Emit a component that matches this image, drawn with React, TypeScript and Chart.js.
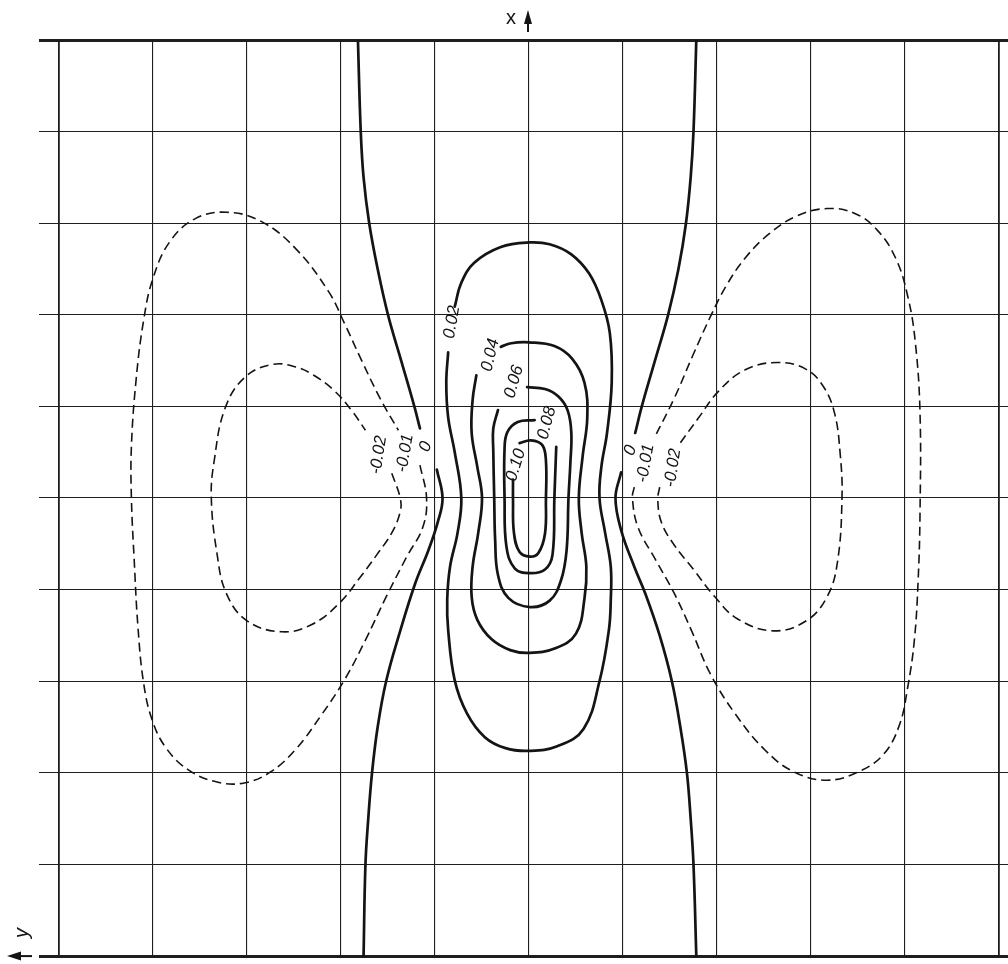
import React, { useEffect, useRef } from "react";
import { Chart, registerables } from "chart.js";

Chart.register(...registerables);

type P = [number, number];

// Grid units: horizontal axis is y (arrow pointing left), vertical axis is x (arrow pointing up).
const gridCols: number[] = [-5, -4, -3, -2, -1, 0, 1, 2, 3, 4, 5];
const gridRows: number[] = [-5, -4, -3, -2, -1, 0, 1, 2, 3, 4, 5];

// Contour polylines, [y, x] pairs in grid units, split where a level label sits.
const zeroLeftUpper: P[] = [
  [-1.82, 5.0], [-1.79, 4.0], [-1.76, 3.5], [-1.70, 3.0], [-1.61, 2.5],
  [-1.50, 2.0], [-1.36, 1.5], [-1.22, 1.0], [-1.16, 0.76],
];
const zeroLeftLower: P[] = [
  [-0.98, 0.31], [-0.92, 0.0], [-0.97, -0.26], [-1.07, -0.57], [-1.21, -0.93],
  [-1.37, -1.45], [-1.52, -2.0], [-1.61, -2.5], [-1.67, -3.0], [-1.71, -3.5],
  [-1.74, -4.0], [-1.76, -5.0],
];
const zeroRightUpper: P[] = [
  [1.78, 5.0], [1.75, 4.0], [1.72, 3.5], [1.67, 3.0], [1.59, 2.5],
  [1.48, 2.0], [1.34, 1.5], [1.20, 1.0], [1.13, 0.71],
];
const zeroRightLower: P[] = [
  [0.98, 0.28], [0.92, 0.0], [0.98, -0.35], [1.12, -0.75], [1.24, -1.05],
  [1.39, -1.5], [1.52, -2.0], [1.61, -2.5], [1.68, -3.0], [1.72, -3.5],
  [1.75, -4.0], [1.78, -5.0],
];
const level002: P[] = [
  [-0.86, 1.59], [-0.88, 1.26], [-0.86, 0.88], [-0.79, 0.50], [-0.72, 0.0],
  [-0.76, -0.38], [-0.84, -0.75], [-0.87, -1.11], [-0.86, -1.44], [-0.79, -1.99],
  [-0.66, -2.35], [-0.47, -2.61], [-0.25, -2.73], [0.0, -2.76], [0.30, -2.71],
  [0.58, -2.52], [0.75, -2.0], [0.85, -1.44], [0.87, -1.11], [0.87, -0.75],
  [0.81, -0.38], [0.75, 0.0], [0.77, 0.34], [0.83, 0.71], [0.88, 1.26],
  [0.86, 1.80], [0.77, 2.16], [0.64, 2.45], [0.45, 2.66], [0.22, 2.77],
  [0.0, 2.79], [-0.30, 2.74], [-0.58, 2.57], [-0.72, 2.35], [-0.79, 2.09],
];
const level004: P[] = [
  [-0.56, 1.34], [-0.60, 1.07], [-0.61, 0.71], [-0.55, 0.34], [-0.50, 0.0],
  [-0.54, -0.38], [-0.60, -0.75], [-0.61, -1.08], [-0.55, -1.33], [-0.40, -1.54],
  [-0.20, -1.66], [0.0, -1.69], [0.28, -1.64], [0.50, -1.48], [0.59, -1.10],
  [0.61, -0.75], [0.56, -0.38], [0.53, 0.0], [0.57, 0.45], [0.62, 0.88],
  [0.59, 1.26], [0.46, 1.52], [0.27, 1.66], [0.0, 1.70], [-0.19, 1.69],
  [-0.30, 1.65],
];
const level006: P[] = [
  [-0.33, 0.96], [-0.38, 0.76], [-0.38, 0.52], [-0.37, 0.0], [-0.36, -0.46],
  [-0.33, -0.84], [-0.22, -1.09], [0.01, -1.19], [0.22, -1.12], [0.34, -0.90],
  [0.40, -0.57], [0.42, 0.0], [0.44, 0.38], [0.45, 0.72], [0.41, 0.96],
  [0.31, 1.11], [0.17, 1.19], [-0.02, 1.21],
];
const level008: P[] = [
  [0.06, 0.85], [-0.12, 0.83], [-0.23, 0.72], [-0.26, 0.54], [-0.26, 0.0],
  [-0.24, -0.53], [-0.15, -0.77], [0.01, -0.82], [0.17, -0.78], [0.25, -0.62],
  [0.27, 0.0], [0.29, 0.56],
];
const level010: P[] = [
  [-0.17, 0.20], [-0.17, -0.02], [-0.16, -0.38], [-0.10, -0.59], [0.01, -0.64],
  [0.10, -0.60], [0.17, -0.39], [0.18, -0.02], [0.18, 0.41], [0.14, 0.58],
  [0.02, 0.63], [-0.10, 0.60],
];
const minus001Left: P[] = [
  [-1.16, 0.36], [-1.09, 0.0], [-1.13, -0.32], [-1.30, -0.64], [-1.52, -1.08],
  [-1.74, -1.55], [-1.96, -1.98], [-2.21, -2.37], [-2.48, -2.74], [-2.75, -2.99],
  [-3.03, -3.11], [-3.32, -3.10], [-3.62, -2.97], [-3.86, -2.73], [-4.01, -2.42],
  [-4.10, -2.02], [-4.16, -1.41], [-4.20, -0.68], [-4.23, 0.0], [-4.23, 0.56],
  [-4.18, 1.29], [-4.10, 1.94], [-4.00, 2.40], [-3.82, 2.80], [-3.55, 3.05],
  [-3.22, 3.12], [-2.85, 3.02], [-2.48, 2.72], [-2.13, 2.25], [-1.96, 1.90],
  [-1.78, 1.50], [-1.58, 1.08], [-1.39, 0.74],
];
const minus002Left: P[] = [
  [-1.46, 0.27], [-1.37, 0.0], [-1.37, -0.15], [-1.46, -0.38], [-1.62, -0.62],
  [-1.80, -0.87], [-2.02, -1.15], [-2.31, -1.38], [-2.63, -1.46], [-3.00, -1.34],
  [-3.22, -1.04], [-3.32, -0.60], [-3.38, 0.0], [-3.35, 0.40], [-3.23, 0.99],
  [-3.01, 1.33], [-2.72, 1.46], [-2.48, 1.43], [-2.29, 1.34], [-2.08, 1.18],
  [-1.89, 0.96], [-1.74, 0.74],
];
const minus001Right: P[] = [
  [1.12, 0.12], [1.10, 0.0], [1.16, -0.32], [1.35, -0.68], [1.55, -1.05],
  [1.73, -1.45], [1.93, -1.92], [2.19, -2.35], [2.51, -2.75], [2.82, -2.99],
  [3.17, -3.08], [3.50, -2.99], [3.77, -2.80], [3.94, -2.48], [4.03, -2.06],
  [4.10, -1.55], [4.14, -0.90], [4.16, -0.16], [4.16, 0.93], [4.11, 1.70],
  [4.03, 2.20], [3.90, 2.62], [3.70, 2.93], [3.46, 3.11], [3.17, 3.16],
  [2.85, 3.08], [2.55, 2.88], [2.30, 2.62], [2.10, 2.32], [1.93, 1.98],
  [1.74, 1.55], [1.55, 1.10], [1.34, 0.67],
];
const minus002Right: P[] = [
  [1.39, 0.12], [1.37, -0.02], [1.41, -0.27], [1.55, -0.52], [1.75, -0.78],
  [1.97, -1.07], [2.22, -1.32], [2.60, -1.45], [2.95, -1.34], [3.17, -1.08],
  [3.28, -0.71], [3.33, 0.0], [3.31, 0.49], [3.25, 0.93], [3.13, 1.22],
  [2.94, 1.41], [2.64, 1.48], [2.30, 1.40], [2.02, 1.17], [1.80, 0.87],
  [1.58, 0.56],
];

// Each level with its line pieces.
const contourLevels: { level: number; parts: P[][] }[] = [
  { level: 0.1, parts: [level010] },
  { level: 0.08, parts: [level008] },
  { level: 0.06, parts: [level006] },
  { level: 0.04, parts: [level004] },
  { level: 0.02, parts: [level002] },
  { level: 0, parts: [zeroLeftUpper, zeroLeftLower, zeroRightUpper, zeroRightLower] },
  { level: -0.01, parts: [minus001Left, minus001Right] },
  { level: -0.02, parts: [minus002Left, minus002Right] },
];

// Level labels written along the lines: text, anchor [y, x], rotation in degrees.
const labelTexts: string[] = ["0.02", "0.04", "0.06", "0.08", "0.10", "0", "-0.01", "-0.02", "0", "-0.01", "-0.02"];
const labelAnchors: P[] = [
  [-0.82, 1.92], [-0.41, 1.56], [-0.16, 1.27], [0.19, 0.82], [-0.14, 0.36],
  [-1.10, 0.56], [-1.32, 0.49], [-1.60, 0.47],
  [1.08, 0.52], [1.24, 0.38], [1.53, 0.33],
];
const labelAngles: number[] = [-80, -77, -74, -75, -73, -70, -80, -81, -70, -80, -82];

const INK = "#141414";

const annotate = {
  id: "annotate",
  afterDatasetsDraw(chart: any) {
    const { ctx, scales, chartArea } = chart;
    const sx = scales.x;
    const sy = scales.y;
    ctx.save();
    ctx.fillStyle = INK;
    ctx.strokeStyle = INK;
    ctx.textAlign = "center";
    ctx.textBaseline = "middle";
    ctx.font = 'italic 17px "Liberation Sans", Arial, sans-serif';
    labelTexts.forEach((t, i) => {
      ctx.save();
      ctx.translate(sx.getPixelForValue(labelAnchors[i][0]), sy.getPixelForValue(labelAnchors[i][1]));
      ctx.rotate((labelAngles[i] * Math.PI) / 180);
      ctx.fillText(t, 0, 0);
      ctx.restore();
    });

    // x axis arrow (upwards) above the frame
    const ax = sx.getPixelForValue(0) - 1;
    const top = chartArea.top;
    ctx.lineWidth = 2;
    ctx.beginPath();
    ctx.moveTo(ax, top - 8);
    ctx.lineTo(ax, top - 22);
    ctx.stroke();
    ctx.beginPath();
    ctx.moveTo(ax, top - 30);
    ctx.lineTo(ax - 4, top - 16);
    ctx.lineTo(ax + 4, top - 16);
    ctx.closePath();
    ctx.fill();
    ctx.font = '20px "Liberation Sans", Arial, sans-serif';
    ctx.fillText("x", ax - 17, top - 22);

    // y axis arrow (leftwards) at the lower left corner
    const ay = sy.getPixelForValue(-5);
    const left = chartArea.left;
    ctx.beginPath();
    ctx.moveTo(left - 7, ay);
    ctx.lineTo(left - 22, ay);
    ctx.stroke();
    ctx.beginPath();
    ctx.moveTo(left - 32, ay);
    ctx.lineTo(left - 18, ay - 4.5);
    ctx.lineTo(left - 18, ay + 4.5);
    ctx.closePath();
    ctx.fill();
    ctx.save();
    ctx.translate(left - 17, ay - 23);
    ctx.rotate(-Math.PI / 2);
    ctx.font = 'italic 20px "Liberation Sans", Arial, sans-serif';
    ctx.fillText("y", 0, 0);
    ctx.restore();
    ctx.restore();
  },
};

export default function App() {
  const canvasRef = useRef<HTMLCanvasElement | null>(null);

  useEffect(() => {
    const canvas = canvasRef.current;
    if (!canvas) return;

    const datasets: any[] = [];
    contourLevels.forEach(({ level, parts }) => {
      parts.forEach((part) => {
        datasets.push({
          label: String(level),
          data: part.map(([u, v]) => ({ x: u, y: v })),
          showLine: true,
          pointRadius: 0,
          borderColor: INK,
          borderWidth: level < 0 ? 1.6 : 2.7,
          borderDash: level < 0 ? [9, 5] : [],
          borderJoinStyle: "round",
          borderCapStyle: level < 0 ? "butt" : "round",
          tension: 0.4,
          fill: false,
        });
      });
    });

    const chart = new Chart(canvas, {
      type: "scatter",
      data: { datasets },
      plugins: [annotate],
      options: {
        animation: false,
        responsive: false,
        devicePixelRatio: 1,
        events: [],
        layout: { padding: { left: 39, top: 40, right: 0, bottom: 7 } },
        plugins: { legend: { display: false }, tooltip: { enabled: false } },
        scales: {
          x: {
            type: "linear",
            min: -5.213,
            max: 5.096,
            afterBuildTicks: (s: any) => {
              s.ticks = gridCols.map((v) => ({ value: v }));
            },
            ticks: { display: false },
            border: { display: false },
            grid: {
              drawTicks: false,
              color: "#1e1e1e",
              lineWidth: (c: any) => (Math.abs(c.tick?.value) === 5 ? 1.8 : 1.1),
            },
          },
          y: {
            type: "linear",
            min: -5.01,
            max: 5.0,
            afterBuildTicks: (s: any) => {
              s.ticks = gridRows.map((v) => ({ value: v }));
            },
            ticks: { display: false },
            border: { display: false },
            grid: {
              drawTicks: false,
              color: "#1e1e1e",
              lineWidth: (c: any) => (Math.abs(c.tick?.value) === 5 ? 3 : 1.1),
            },
          },
        },
      },
    });

    return () => chart.destroy();
  }, []);

  return (
    <div style={{ position: "absolute", left: 0, top: 0, width: 1008, height: 964, background: "#fff" }}>
      <canvas ref={canvasRef} width={1008} height={964} style={{ display: "block" }} />
    </div>
  );
}
